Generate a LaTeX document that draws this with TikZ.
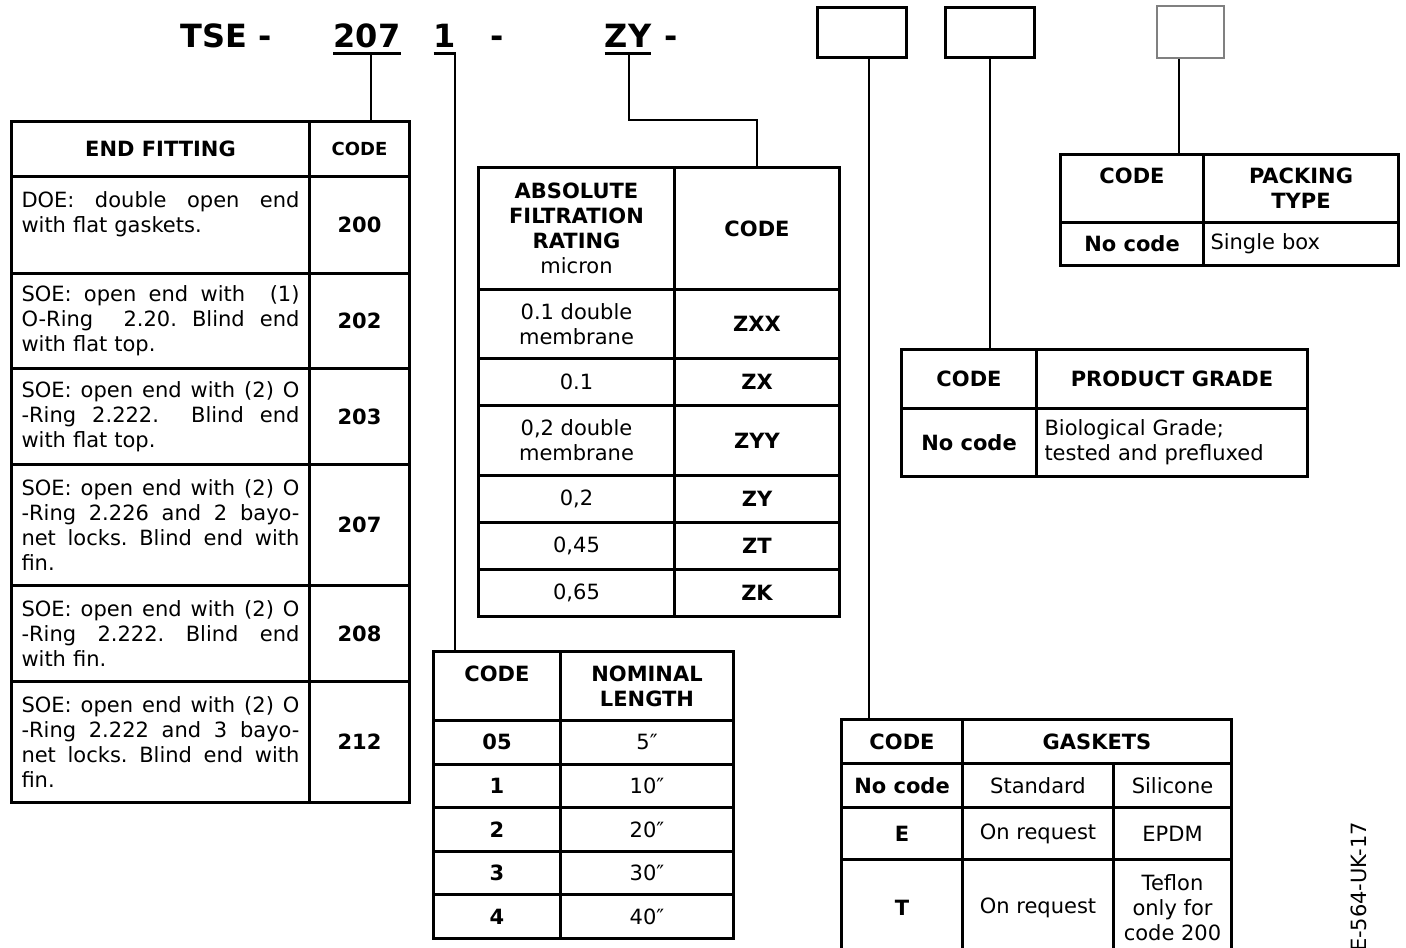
\documentclass[tikz,border=0pt]{standalone}
\usepackage{fontspec}
\setmainfont{DejaVu Sans}
\usetikzlibrary{positioning}

\newcommand{\bodyfont}{\fontsize{21}{25}\selectfont}
\newcommand{\jline}[1]{{\frenchspacing\spaceskip=0pt\xspaceskip=0pt\makebox[278pt][s]{#1}}}

\begin{document}
\begin{tikzpicture}[
	x=1pt, y=-1pt,
	font=\bodyfont,
	% Define styles
	cell/.style={draw, line width=3pt, inner sep=0pt, anchor=north west, align=center},
	desc/.style={cell, text width=278pt, align=left},
	hd/.style={font=\bodyfont\bfseries},
	codebox/.style={draw, line width=3pt, minimum width=89pt, minimum height=50pt},
	title/.style={font=\fontsize{32}{38}\selectfont\bfseries, anchor=base, inner sep=0pt},
	link/.style={line width=2.2pt},
	uline/.style={line width=3pt}
	]
	\useasboundingbox (0,0) rectangle (1406,948);
	\clip (0,0) rectangle (1406,948);
	
	% 1. Order code
	\node[title] (tse) at (226,47) {TSE -};
	\node[title] (c207) at (367,47) {207};
	\node[title] (c1) at (445,47) {1};
	\node[title] (dash1) at (497,47) {-};
	\node[title] (cZY) at (628,47) {ZY};
	\node[title] (dash2) at (671,47) {-};
	\draw[uline] ([yshift=-6pt]c207.base west) -- ([yshift=-6pt]c207.base east);
	\draw[uline] ([yshift=-6pt]c1.base west) -- ([yshift=-6pt]c1.base east);
	\draw[uline] ([yshift=-6pt]cZY.base west) -- ([yshift=-6pt]cZY.base east);
	
	% Empty code boxes
	\node[codebox] (boxgk) at (861.5,32) {};
	\node[codebox] (boxpg) at (990,32) {};
	\node[codebox, draw=gray, line width=1.5pt, minimum width=67pt, minimum height=52pt] (boxpk) at (1190.5,32) {};
	
	% 2. End fitting
	\node[cell, hd, minimum width=298pt, minimum height=55pt] (efhead) at (10,120) {END FITTING};
	\node[cell, font=\fontsize{18}{22}\selectfont\bfseries, minimum width=100pt, minimum height=55pt] (efcode) at (308,120) {CODE};
	\node[desc, minimum width=298pt, minimum height=97pt] (ef1) at (10,175) {\jline{DOE: double open end}\\with flat gaskets.\\\mbox{}};
	\node[cell, hd, minimum width=100pt, minimum height=97pt] (ec1) at (308,175) {200};
	\node[desc, minimum width=298pt, minimum height=95pt] (ef2) at (10,272) {\jline{SOE: open end with\ \ (1)}\\\jline{O-Ring\ \ 2.20. Blind end}\\with flat top.};
	\node[cell, hd, minimum width=100pt, minimum height=95pt] (ec2) at (308,272) {202};
	\node[desc, minimum width=298pt, minimum height=96pt] (ef3) at (10,367) {\jline{SOE: open end with (2) O}\\\jline{-Ring 2.222.\ \ Blind end}\\with flat top.};
	\node[cell, hd, minimum width=100pt, minimum height=96pt] (ec3) at (308,367) {203};
	\node[desc, minimum width=298pt, minimum height=121pt] (ef4) at (10,463) {\jline{SOE: open end with (2) O}\\\jline{-Ring 2.226 and 2 bayo-}\\\jline{net locks. Blind end with}\\fin.};
	\node[cell, hd, minimum width=100pt, minimum height=121pt] (ec4) at (308,463) {207};
	\node[desc, minimum width=298pt, minimum height=96pt] (ef5) at (10,584) {\jline{SOE: open end with (2) O}\\\jline{-Ring 2.222. Blind end}\\with fin.};
	\node[cell, hd, minimum width=100pt, minimum height=96pt] (ec5) at (308,584) {208};
	\node[desc, minimum width=298pt, minimum height=121pt] (ef6) at (10,680) {\jline{SOE: open end with (2) O}\\\jline{-Ring 2.222 and 3 bayo-}\\\jline{net locks. Blind end with}\\fin.};
	\node[cell, hd, minimum width=100pt, minimum height=121pt] (ec6) at (308,680) {212};
	
	% 3. Filtration rating
	\node[cell, minimum width=196pt, minimum height=122pt] (afhead) at (477,166) {\textbf{ABSOLUTE}\\\textbf{FILTRATION}\\\textbf{RATING}\\micron};
	\node[cell, hd, minimum width=165pt, minimum height=122pt] (afcode) at (673,166) {CODE};
	\foreach \y/\h/\val/\code [count=\i] in {288/69/{0.1 double\\membrane}/ZXX, 357/47/0.1/ZX, 404/70/{0,2 double\\membrane}/ZYY, 474/47/{0,2}/ZY, 521/47/{0,45}/ZT, 568/47/{0,65}/ZK} {
		\node[cell, minimum width=196pt, minimum height=\h pt] (afv\i) at (477,\y) {\val};
		\node[cell, hd, minimum width=165pt, minimum height=\h pt] (afc\i) at (673,\y) {\code};
	}
	
	% 4. Nominal length
	\node[cell, hd, minimum width=127pt, minimum height=69pt] (nlcode) at (432,650) {CODE\\\mbox{}};
	\node[cell, hd, minimum width=173pt, minimum height=69pt] (nlhead) at (559,650) {NOMINAL\\LENGTH};
	\foreach \c/\l [count=\i] in {05/5, 1/10, 2/20, 3/30, 4/40} {
		\node[cell, hd, minimum width=127pt, minimum height=43.6pt] (nlc\i) at (432,{719+43.6*(\i-1)}) {\c};
		\node[cell, minimum width=173pt, minimum height=43.6pt] (nll\i) at (559,{719+43.6*(\i-1)}) {\l″};
	}
	
	% 5. Product grade
	\node[cell, hd, minimum width=135pt, minimum height=59pt] (pgcode) at (900,348) {CODE};
	\node[cell, hd, minimum width=271pt, minimum height=59pt] (pghead) at (1035,348) {PRODUCT GRADE};
	\node[cell, hd, minimum width=135pt, minimum height=68pt] (pgc1) at (900,407) {No code};
	\node[cell, minimum width=271pt, minimum height=68pt, text width=255pt, align=left] (pgd1) at (1035,407) {Biological Grade;\\tested and prefluxed};
	
	% 6. Packing type
	\node[cell, hd, minimum width=143pt, minimum height=68pt] (pkcode) at (1059,153) {CODE\\\mbox{}};
	\node[cell, hd, minimum width=195pt, minimum height=68pt] (pkhead) at (1202,153) {PACKING\\TYPE};
	\node[cell, hd, minimum width=143pt, minimum height=43pt] (pkc1) at (1059,221) {No code};
	\node[cell, minimum width=195pt, minimum height=43pt, text width=181pt, align=left] (pkd1) at (1202,221) {Single box};
	
	% 7. Gaskets
	\node[cell, hd, minimum width=121pt, minimum height=44pt] (gkcode) at (840,718) {CODE};
	\node[cell, hd, minimum width=269pt, minimum height=44pt] (gkhead) at (961,718) {GASKETS};
	\foreach \y/\h/\c/\a/\b [count=\i] in {762/44/No code/Standard/Silicone, 806/52/E/On request/EPDM, 858/97/T/On request/{Teflon\\only for\\code 200}} {
		\node[cell, hd, minimum width=121pt, minimum height=\h pt] (gkc\i) at (840,\y) {\c};
		\node[cell, minimum width=151pt, minimum height=\h pt] (gka\i) at (961,\y) {\a};
		\node[cell, minimum width=118pt, minimum height=\h pt] (gkb\i) at (1112,\y) {\b};
	}
	
	% Connectors from the code to the tables
	\coordinate (u207) at ([xshift=4pt,yshift=-6pt]c207.base);
	\coordinate (u1) at ([xshift=-1.5pt,yshift=-6pt]c1.base east);
	\coordinate (uZY) at ([xshift=1pt,yshift=-6pt]cZY.base);
	\coordinate (gkdrop) at ([xshift=7.5pt]boxgk.south);
	\coordinate (pkdrop) at ([xshift=-11.5pt]boxpk.south);
	\draw[link] (u207) -- (u207 |- efcode.north);
	\draw[link] (u1) -- (u1 |- nlcode.north);
	\draw[link] (uZY) |- (afcode.north |- 0,120) -- (afcode.north);
	\draw[link] (gkdrop) -- (gkdrop |- gkcode.north);
	\draw[link] (boxpg.south) -- (boxpg.south |- pgcode.north);
	\draw[link] (pkdrop) -- (pkdrop |- pkcode.north);
	
	% Document number
	\node[rotate=90, anchor=east, inner sep=0pt] (docid) at (1359,822) {E-564-UK-17};
\end{tikzpicture}
\end{document}
